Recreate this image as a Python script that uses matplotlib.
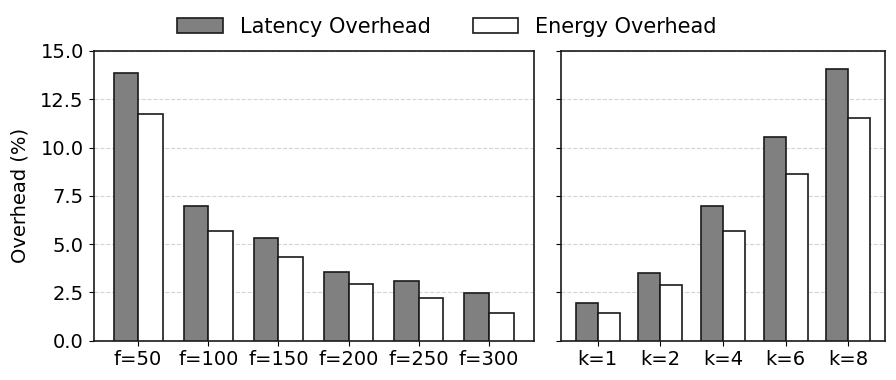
import matplotlib
matplotlib.use("Agg")
import matplotlib.pyplot as plt
import numpy as np

f_labels = ["f=50", "f=100", "f=150", "f=200", "f=250", "f=300"]
f_latency = [13.86, 6.97, 5.29, 3.56, 3.10, 2.46]
f_energy = [11.71, 5.69, 4.31, 2.92, 2.20, 1.44]

k_labels = ["k=1", "k=2", "k=4", "k=6", "k=8"]
k_latency = [1.92, 3.48, 6.97, 10.54, 14.08]
k_energy = [1.42, 2.85, 5.69, 8.62, 11.52]

plt.rcParams['font.family'] = ['DejaVu Sans']
fig = plt.figure(figsize=(8.96, 3.8), dpi=100)
W, H = 896, 380
ax1 = fig.add_axes([93.5 / W, 1 - 340.5 / H, 440 / W, 289.5 / H])
ax2 = fig.add_axes([561 / W, 1 - 340.5 / H, 324 / W, 289.5 / H], sharey=ax1)

width = 0.35
for ax, labels, lat, en in [(ax1, f_labels, f_latency, f_energy),
                            (ax2, k_labels, k_latency, k_energy)]:
    x = np.arange(len(labels))
    ax.bar(x - width / 2, lat, width, color='#808080', edgecolor='#1a1a1a',
           linewidth=1.2, label='Latency Overhead', zorder=3)
    ax.bar(x + width / 2, en, width, color='white', edgecolor='#1a1a1a',
           linewidth=1.2, label='Energy Overhead', zorder=3)
    ax.set_xticks(x)
    ax.set_xticklabels(labels, fontsize=14)
    ax.tick_params(axis='both', labelsize=14)
    ax.yaxis.grid(True, linestyle='--', color='#d4d4d4', linewidth=0.8, zorder=0)
    ax.set_axisbelow(True)
    for s in ax.spines.values():
        s.set_linewidth(1.2)
        s.set_color('#1a1a1a')

ax1.set_ylim(0, 15)
ax1.set_yticks(np.arange(0, 15.1, 2.5))
ax1.set_yticklabels([f"{v:.1f}" for v in np.arange(0, 15.1, 2.5)], fontsize=14)
ax1.set_ylabel("Overhead (%)", fontsize=14, labelpad=8)
plt.setp(ax2.get_yticklabels(), visible=False)

handles, labs = ax1.get_legend_handles_labels()
fig.legend(handles, labs, loc='center', bbox_to_anchor=(447 / W, 1 - 27 / H),
           ncol=2, frameon=False, fontsize=15, columnspacing=2.0,
           handlelength=2.2, handletextpad=0.8)

fig.savefig("out.png", dpi=100)
